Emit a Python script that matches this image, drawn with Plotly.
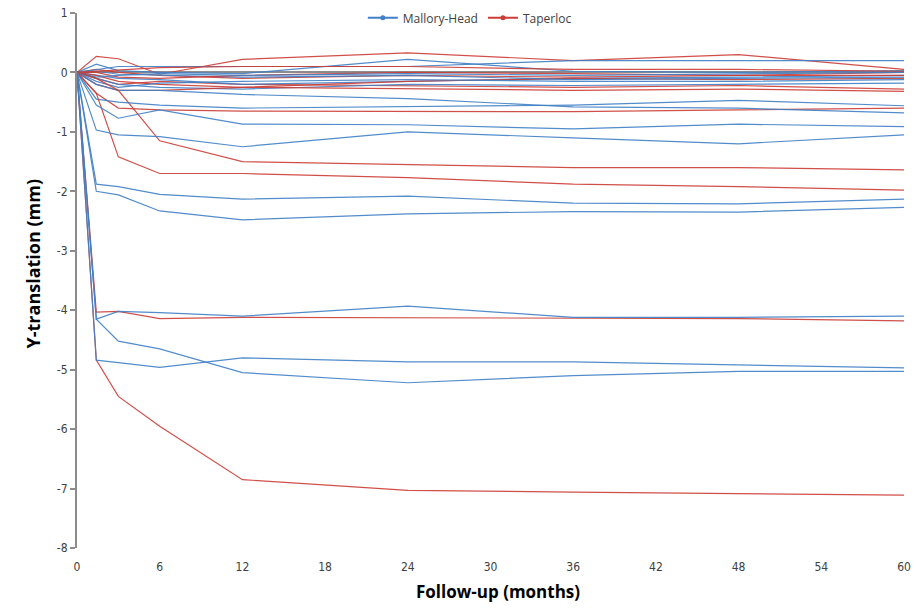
import plotly.graph_objects as go

months = [0, 1.4, 3, 6, 12, 24, 36, 48, 60]

# Mallory-Head (blue)
mh_01 = [0, 0.14, 0.03, 0.00, -0.02, 0.22, 0.02, 0.00, 0.03]
mh_02 = [0, 0.05, 0.10, 0.10, 0.10, 0.10, 0.20, 0.20, 0.20]
mh_03 = [0, -0.05, -0.10, -0.12, -0.20, -0.15, -0.10, -0.08, -0.05]
mh_04 = [0, -0.10, -0.20, -0.25, -0.28, -0.20, -0.22, -0.20, -0.18]
mh_05 = [0, 0.02, -0.03, -0.05, -0.08, -0.05, -0.12, -0.10, -0.08]
mh_06 = [0, -0.15, -0.25, -0.18, -0.15, -0.12, -0.15, -0.15, -0.12]
mh_07 = [0, -0.08, -0.05, -0.02, -0.05, -0.02, -0.05, -0.03, 0.00]
mh_08 = [0, -0.20, -0.30, -0.30, -0.37, -0.44, -0.58, -0.60, -0.68]
mh_09 = [0, -0.45, -0.50, -0.55, -0.60, -0.57, -0.55, -0.47, -0.56]
mh_10 = [0, -0.55, -0.77, -0.63, -0.87, -0.88, -0.95, -0.87, -0.91]
mh_11 = [0, -0.97, -1.05, -1.08, -1.25, -1.00, -1.10, -1.20, -1.05]
mh_12 = [0, -1.88, -1.92, -2.05, -2.13, -2.08, -2.20, -2.21, -2.13]
mh_13 = [0, -2.00, -2.06, -2.33, -2.48, -2.38, -2.34, -2.35, -2.27]
mh_14 = [0, -4.15, -4.02, -4.04, -4.10, -3.93, -4.12, -4.12, -4.10]
mh_15 = [0, -4.15, -4.52, -4.65, -5.05, -5.22, -5.10, -5.03, -5.03]
mh_16 = [0, -4.84, -4.88, -4.96, -4.80, -4.87, -4.87, -4.92, -4.97]

# Taperloc (red)
tl_01 = [0, 0.27, 0.23, -0.03, 0.22, 0.33, 0.20, 0.30, 0.05]
tl_02 = [0, 0.05, 0.00, -0.05, -0.10, -0.05, -0.08, -0.05, 0.00]
tl_03 = [0, -0.10, -0.20, -0.15, -0.20, -0.22, -0.25, -0.22, -0.28]
tl_04 = [0, -0.05, -0.15, -0.20, -0.25, -0.15, -0.10, -0.12, -0.10]
tl_05 = [0, -0.20, -0.30, -0.30, -0.25, -0.28, -0.30, -0.28, -0.32]
tl_06 = [0, 0.00, -0.08, -0.10, -0.05, 0.00, -0.02, -0.05, -0.05]
tl_07 = [0, 0.02, 0.05, 0.08, 0.10, 0.10, 0.05, 0.05, 0.02]
tl_08 = [0, -0.35, -0.60, -0.63, -0.65, -0.65, -0.66, -0.63, -0.60]
tl_09 = [0, -0.10, -0.30, -1.15, -1.50, -1.55, -1.60, -1.60, -1.64]
tl_10 = [0, -0.35, -1.42, -1.70, -1.70, -1.77, -1.88, -1.92, -1.98]
tl_11 = [0, -4.03, -4.02, -4.14, -4.12, -4.13, -4.13, -4.14, -4.18]
tl_12 = [0, -4.84, -5.45, -5.95, -6.85, -7.03, -7.06, -7.08, -7.11]

mallory_series = [mh_01, mh_02, mh_03, mh_04, mh_05, mh_06, mh_07, mh_08,
                  mh_09, mh_10, mh_11, mh_12, mh_13, mh_14, mh_15, mh_16]
taperloc_series = [tl_01, tl_02, tl_03, tl_04, tl_05, tl_06, tl_07, tl_08,
                   tl_09, tl_10, tl_11, tl_12]

y_ticks = [1, 0, -1, -2, -3, -4, -5, -6, -7, -8]
y_tick_text = ["1", "0", "-1", "-2", "-3", "-4", "-5", "-6", "-7", "-8"]
x_ticks = [0, 6, 12, 18, 24, 30, 36, 42, 48, 54, 60]

BLUE = "#4080C6"
RED = "#CD3D36"
FONT = "Liberation Sans Narrow, DejaVu Sans Condensed, Arial Narrow, sans-serif"
TITLE_FONT = "Open Sans, sans-serif"

fig = go.Figure()

n = max(len(mallory_series), len(taperloc_series))
for i in range(n):
    if i < len(taperloc_series):
        fig.add_trace(go.Scatter(x=months, y=taperloc_series[i], mode="lines",
                                 line=dict(color=RED, width=1.2), opacity=0.9,
                                 showlegend=False, hoverinfo="skip"))
    if i < len(mallory_series):
        fig.add_trace(go.Scatter(x=months, y=mallory_series[i], mode="lines",
                                 line=dict(color=BLUE, width=1.2), opacity=0.9,
                                 showlegend=False, hoverinfo="skip"))

# legend entries
fig.add_trace(go.Scatter(x=[None], y=[None], mode="lines+markers", name="Mallory-Head",
                         line=dict(color=BLUE, width=2), marker=dict(size=5, color=BLUE)))
fig.add_trace(go.Scatter(x=[None], y=[None], mode="lines+markers", name="Taperloc",
                         line=dict(color=RED, width=2), marker=dict(size=5, color=RED)))

fig.update_layout(
    width=916, height=609,
    margin=dict(l=77, r=12, t=13, b=61, autoexpand=False),
    paper_bgcolor="white", plot_bgcolor="white",
    font=dict(family=FONT, size=12, color="#404040"),
    legend=dict(orientation="h", x=0.475, xanchor="center", y=1.018, yanchor="top",
                font=dict(family=TITLE_FONT, size=12, color="#404040"),
                bgcolor="rgba(255,255,255,0)", itemwidth=30),
    xaxis=dict(range=[0, 60], tickvals=x_ticks, showgrid=False, zeroline=False,
               showline=False, ticks="", automargin=False, ticklabelstandoff=10,
               tickfont=dict(size=12, color="#404040")),
    yaxis=dict(range=[-8, 1], tickvals=y_ticks, ticktext=y_tick_text, showgrid=False,
               zeroline=True, zerolinecolor="#8C8C8C", zerolinewidth=1.5,
               showline=True, linecolor="#8C8C8C", linewidth=2, automargin=False,
               ticks="outside", ticklen=5, tickcolor="#8C8C8C", tickwidth=1.5,
               tickfont=dict(size=12, color="#404040")),
    annotations=[
        dict(text="<b>Follow-up (months)</b>", xref="paper", yref="paper",
             x=0.5085, y=-0.0822, xanchor="center", yanchor="middle", showarrow=False,
             font=dict(family=TITLE_FONT, size=17, color="#000000")),
        dict(text="<b>Y-translation (mm)</b>", xref="paper", yref="paper",
             x=-0.0532, y=0.5318, xanchor="center", yanchor="middle", showarrow=False,
             textangle=-90, font=dict(family=TITLE_FONT, size=18, color="#000000")),
    ],
)

fig.write_html("out.html", post_script="document.body.style.margin='0';",
               config={"displayModeBar": False})
